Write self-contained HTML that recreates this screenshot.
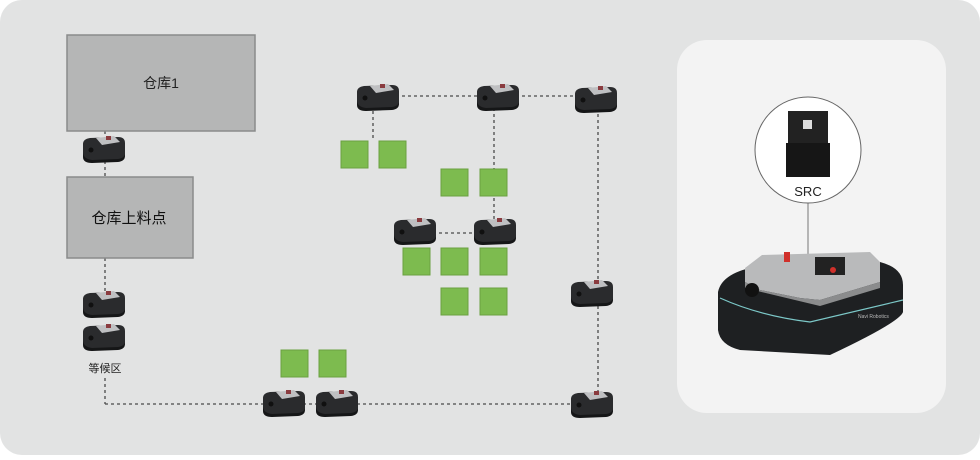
<!DOCTYPE html>
<html><head><meta charset="utf-8"><style>
html,body{margin:0;padding:0;background:#fff;}
body{width:980px;height:455px;overflow:hidden;font-family:"Liberation Sans","Noto Sans CJK SC",sans-serif;}
</style></head><body>
<svg width="980" height="455" viewBox="0 0 980 455" xmlns="http://www.w3.org/2000/svg">
<defs>
<g id="r">
  <path d="M-21,-4 Q-21,-9 -14,-10 L14,-11 Q21,-11 21,-5 L21,6 Q21,11 14,12 L-12,13 Q-21,13 -21,7 Z" fill="#2a2b2d"/>
  <path d="M-21,4 Q-21,11 -12,12 L14,11 Q21,10 21,5 L21,8 Q21,13 14,14 L-12,15 Q-21,15 -21,9 Z" fill="#151617"/>
  <path d="M-8,-10 L10,-12 L16,-6 L-2,-3 Z" fill="#bfc0c2"/>
  <rect x="2" y="-12" width="5" height="4" fill="#8a3b3f"/>
  <circle cx="-13" cy="2" r="2.5" fill="#101010"/>
</g>
</defs>
<rect x="0" y="0" width="980" height="455" rx="22" fill="#e2e3e3"/>
<rect x="677" y="40" width="269" height="373" rx="30" fill="#f3f3f3"/>

<g stroke="#4a4a4a" stroke-width="1.3" stroke-dasharray="3,3" fill="none">
  <line x1="105" y1="131" x2="105" y2="177"/>
  <line x1="105" y1="258" x2="105" y2="300"/>
  <line x1="105" y1="378" x2="105" y2="404"/>
  <line x1="105" y1="404" x2="598" y2="404"/>
  <line x1="378" y1="96" x2="598" y2="96"/>
  <line x1="598" y1="96" x2="598" y2="404"/>
  <line x1="373" y1="105" x2="373" y2="140"/>
  <line x1="494" y1="96" x2="494" y2="230"/>
  <line x1="415" y1="233" x2="494" y2="233"/>
</g>

<rect x="67" y="35" width="188" height="96" fill="#b5b6b6" stroke="#8a8b8b" stroke-width="1.5"/>
<text x="161" y="88" font-size="14" text-anchor="middle" fill="#222">仓库1</text>
<rect x="67" y="177" width="126" height="81" fill="#b5b6b6" stroke="#8a8b8b" stroke-width="1.5"/>
<text x="129" y="223" font-size="15" text-anchor="middle" fill="#111">仓库上料点</text>
<text x="105" y="372" font-size="11" text-anchor="middle" fill="#222">等候区</text>

<g fill="#7dbb4f" stroke="#6aa040" stroke-width="1">
  <rect x="341" y="141" width="27" height="27"/><rect x="379" y="141" width="27" height="27"/>
  <rect x="441" y="169" width="27" height="27"/><rect x="480" y="169" width="27" height="27"/>
  <rect x="403" y="248" width="27" height="27"/><rect x="441" y="248" width="27" height="27"/><rect x="480" y="248" width="27" height="27"/>
  <rect x="441" y="288" width="27" height="27"/><rect x="480" y="288" width="27" height="27"/>
  <rect x="281" y="350" width="27" height="27"/><rect x="319" y="350" width="27" height="27"/>
</g>

<use href="#r" x="378" y="96"/><use href="#r" x="498" y="96"/><use href="#r" x="596" y="98"/>
<use href="#r" x="104" y="148"/><use href="#r" x="415" y="230"/><use href="#r" x="495" y="230"/>
<use href="#r" x="592" y="292"/><use href="#r" x="104" y="303"/><use href="#r" x="104" y="336"/>
<use href="#r" x="284" y="402"/><use href="#r" x="337" y="402"/><use href="#r" x="592" y="403"/>

<!-- big robot -->
<line x1="808" y1="203" x2="808" y2="262" stroke="#777" stroke-width="1"/>
<path d="M718,292 Q722,272 760,266 L880,262 Q903,268 903,285 L903,312 Q900,322 830,355 L740,350 Q720,345 718,330 Z" fill="#1e2022"/>
<path d="M720,298 Q760,316 810,322 L903,300" stroke="#7cc8c8" stroke-width="1.2" fill="none"/>
<path d="M745,268 L762,255 L870,252 L880,262 L880,282 L820,300 L800,298 L760,290 L745,282 Z" fill="#b9babb"/>
<path d="M745,282 L760,290 L800,298 L820,300 L880,282 L880,288 L820,306 L745,288 Z" fill="#8b8c8d"/>
<rect x="815" y="257" width="30" height="18" fill="#222"/>
<circle cx="833" cy="270" r="3" fill="#d0302a"/>
<rect x="784" y="252" width="6" height="10" fill="#d0302a"/>
<circle cx="752" cy="290" r="7" fill="#111"/>
<text x="858" y="318" font-size="5" fill="#bbb">Navi Robotics</text>

<circle cx="808" cy="150" r="53" fill="#fff" stroke="#666" stroke-width="1"/>
<rect x="788" y="111" width="40" height="32" fill="#222"/>
<rect x="786" y="143" width="44" height="34" fill="#161616"/>
<rect x="803" y="120" width="9" height="9" fill="#ddd"/>
<text x="808" y="196" font-size="13" text-anchor="middle" fill="#222">SRC</text>
</svg>
</body></html>
